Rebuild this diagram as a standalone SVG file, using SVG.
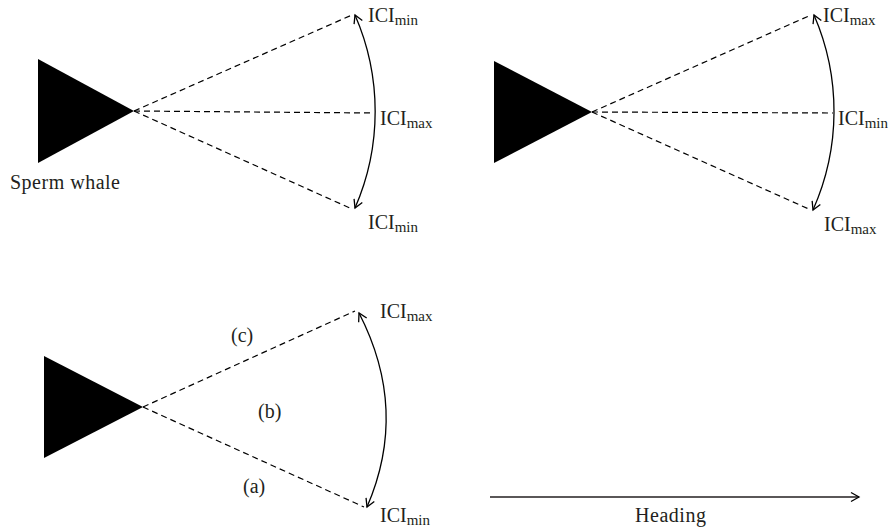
<svg xmlns="http://www.w3.org/2000/svg" width="890" height="529" viewBox="0 0 890 529">
<defs>
<marker id="ah" viewBox="-10 -6 12 12" refX="0" refY="0" markerWidth="12" markerHeight="12" markerUnits="userSpaceOnUse" orient="auto-start-reverse">
<path d="M -8 -4.5 L 0 0 L -8 4.5" fill="none" stroke="#000" stroke-width="1.3"/>
</marker>
</defs>
<style>
.tri{fill:#000}
.dash{stroke:#000;stroke-width:1.2;stroke-dasharray:6 4;fill:none}
.arc{stroke:#000;stroke-width:1.3;fill:none;marker-start:url(#ah);marker-end:url(#ah)}
.lbl{font-family:"Liberation Serif","Times New Roman",serif;font-size:20px;fill:#231f20}
.sub{font-size:15px}
</style>
<rect width="890" height="529" fill="#fff"/>

<g id="whale1">
<polygon class="tri" points="38,59 38,163 134,111"/>
<text class="lbl" x="10" y="189" textLength="110">Sperm whale</text>
</g>
<g id="whale2">
<polygon class="tri" points="494,61 494,163 592,112"/>
</g>
<g id="whale3">
<polygon class="tri" points="44,356 44,458 143,407"/>
</g>

<g id="labels">
<text class="lbl" x="368" y="22">ICI<tspan class="sub" dy="3">min</tspan></text>
<text class="lbl" x="380" y="125">ICI<tspan class="sub" dy="3">max</tspan></text>
<text class="lbl" x="368" y="229">ICI<tspan class="sub" dy="3">min</tspan></text>
<text class="lbl" x="823" y="22">ICI<tspan class="sub" dy="3">max</tspan></text>
<text class="lbl" x="838" y="125">ICI<tspan class="sub" dy="3">min</tspan></text>
<text class="lbl" x="824" y="231">ICI<tspan class="sub" dy="3">max</tspan></text>
<text class="lbl" x="380" y="318">ICI<tspan class="sub" dy="3">max</tspan></text>
<text class="lbl" x="380" y="522">ICI<tspan class="sub" dy="3">min</tspan></text>
<text class="lbl" x="231" y="342">(c)</text>
<text class="lbl" x="258" y="418">(b)</text>
<text class="lbl" x="243" y="493">(a)</text>
<text class="lbl" x="635" y="522" textLength="71">Heading</text>
</g>

<g id="connectors">
<line class="dash" x1="134" y1="111" x2="352" y2="15"/>
<line class="dash" x1="134" y1="111" x2="374" y2="113"/>
<line class="dash" x1="134" y1="111" x2="352" y2="209"/>
<path class="arc" d="M 355 15 A 241 241 0 0 1 355 208"/>

<line class="dash" x1="592" y1="112" x2="811" y2="15"/>
<line class="dash" x1="592" y1="112" x2="833" y2="113"/>
<line class="dash" x1="592" y1="112" x2="811" y2="210"/>
<path class="arc" d="M 814 15 A 242 242 0 0 1 813 210"/>

<line class="dash" x1="143" y1="407" x2="355" y2="311"/>
<line class="dash" x1="143" y1="407" x2="364" y2="507"/>
<path class="arc" d="M 359 313 Q 409 410 367 507"/>

<line x1="490" y1="497" x2="859" y2="497" stroke="#231f20" stroke-width="1.3" marker-end="url(#ah)"/>
</g>
</svg>
